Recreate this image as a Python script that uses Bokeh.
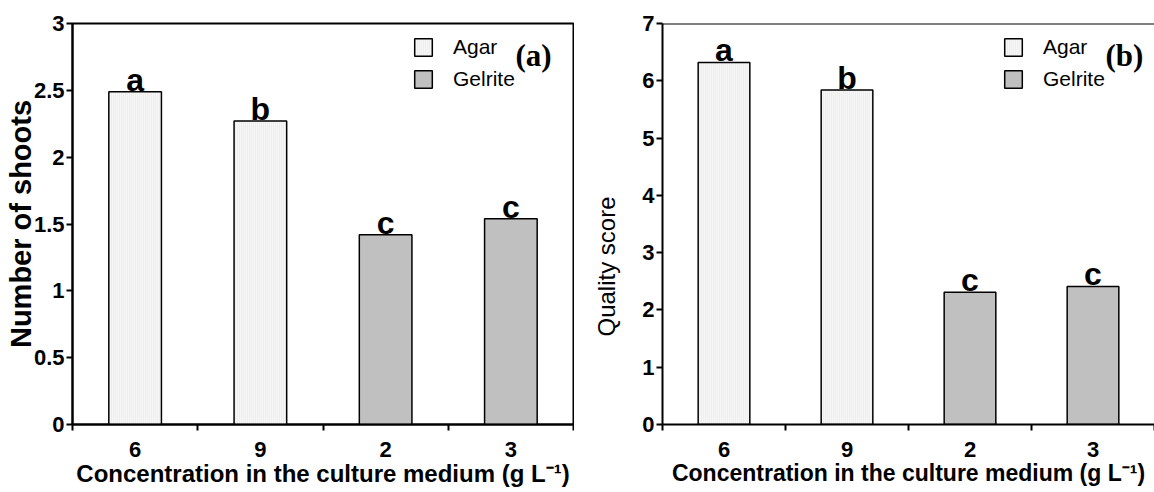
from bokeh.plotting import figure
from bokeh.models import (ColumnDataSource, FixedTicker, Legend, LegendItem, Label, Span,
                          Title, NumeralTickFormatter, CustomJSTickFormatter)
from bokeh.core.properties import value
from bokeh.layouts import row
from bokeh.embed import file_html
from bokeh.resources import INLINE

# Concentration of each gelling agent (g L-1) and the agent used
concentrations = ["6", "9", "2", "3"]
media = ["Agar", "Agar", "Gelrite", "Gelrite"]

# (a) number of shoots per explant
shoots = [2.49, 2.27, 1.42, 1.54]
shoots_letters = ["a", "b", "c", "c"]
shoots_ticks = [0, 0.5, 1, 1.5, 2, 2.5, 3]

# (b) quality score
quality = [6.32, 5.84, 2.31, 2.41]
quality_letters = ["a", "b", "c", "c"]
quality_ticks = [0, 1, 2, 3, 4, 5, 6, 7]

SANS = "Liberation Sans"
SERIF = "Liberation Serif"
AGAR_FILL = "#f6f6f6"
GELRITE_FILL = "#c0c0c0"
FRAME_H = 401
XTITLE = "Concentration in the culture medium (g L\u207b\u00b9)"


def panel(values, letters, ticks, xlabel_size, tag, width, border_left, border_right, boxed):
    n = len(concentrations)
    pos = [i + 0.5 for i in range(n)]
    p = figure(width=width, height=492, x_range=(0, n), y_range=(0, ticks[-1]),
               output_backend="svg", toolbar_location=None,
               min_border_left=border_left, min_border_right=border_right,
               min_border_top=23, min_border_bottom=68)
    p.grid.visible = False
    p.background_fill_color = "white"
    p.border_fill_color = "white"
    if boxed:
        p.outline_line_color = "black"
        p.outline_line_width = 2
    else:
        # only the top edge of the frame is drawn
        p.outline_line_color = None
        p.add_layout(Span(location=ticks[-1], dimension="width",
                          line_color="black", line_width=2))

    agar = ColumnDataSource(dict(
        x=[pos[i] for i in range(n) if media[i] == "Agar"],
        top=[values[i] for i in range(n) if media[i] == "Agar"]))
    gel = ColumnDataSource(dict(
        x=[pos[i] for i in range(n) if media[i] == "Gelrite"],
        top=[values[i] for i in range(n) if media[i] == "Gelrite"]))

    r_agar = p.vbar(x="x", top="top", width=0.42, bottom=0, source=agar,
                    fill_color=AGAR_FILL, line_color="black", line_width=1.5,
                    hatch_pattern="vertical_line", hatch_color="#e6e6e6",
                    hatch_scale=2, hatch_weight=1)
    r_gel = p.vbar(x="x", top="top", width=0.42, bottom=0, source=gel,
                   fill_color=GELRITE_FILL, line_color="black", line_width=1.5)

    # significance letters sitting on each bar
    p.text(x=pos, y=values, text=letters, text_align="center",
           text_baseline="bottom", text_font=value(SANS), text_font_style="bold",
           text_font_size="32px", text_color="black", y_offset=6)

    # x axis: category labels centred, ticks on the category boundaries
    xa = p.xaxis[0]
    xa.ticker = FixedTicker(ticks=pos, minor_ticks=list(range(n + 1)))
    xa.formatter = CustomJSTickFormatter(args=dict(labels=concentrations),
                                         code="return labels[Math.floor(tick)];")
    xa.major_tick_out = 0
    xa.major_tick_in = 0
    xa.minor_tick_out = 6
    xa.minor_tick_in = 0
    xa.minor_tick_line_width = 2
    xa.axis_line_width = 2
    xa.major_label_standoff = 11
    xa.major_label_text_font = SANS
    xa.major_label_text_font_style = "bold"
    xa.major_label_text_font_size = "22px"
    xa.major_label_text_color = "black"
    xa.axis_label = XTITLE
    xa.axis_label_text_font = SANS
    xa.axis_label_text_font_style = "bold"
    xa.axis_label_text_font_size = xlabel_size
    xa.axis_label_text_color = "black"
    xa.axis_label_standoff = 0

    ya = p.yaxis[0]
    ya.ticker = FixedTicker(ticks=ticks, minor_ticks=[])
    ya.formatter = NumeralTickFormatter(format="0.[0]")
    ya.major_tick_out = 6
    ya.major_tick_in = 0
    ya.major_tick_line_width = 2
    ya.minor_tick_out = 0
    ya.minor_tick_in = 0
    ya.axis_line_width = 2
    ya.major_label_standoff = 2
    ya.major_label_text_font = SANS
    ya.major_label_text_font_style = "bold"
    ya.major_label_text_font_size = "22px"
    ya.major_label_text_color = "black"

    legend = Legend(items=[LegendItem(label="Agar", renderers=[r_agar]),
                           LegendItem(label="Gelrite", renderers=[r_gel])],
                    location=(340, FRAME_H - 16 - 52),
                    glyph_width=22, glyph_height=22, label_height=22,
                    spacing=8, padding=0, margin=0, label_standoff=19,
                    label_text_font=SANS, label_text_font_size="21px",
                    label_text_color="black",
                    border_line_alpha=0, background_fill_alpha=0)
    p.add_layout(legend)

    p.add_layout(Label(x=443, y=FRAME_H - 32, x_units="screen", y_units="screen",
                       text=tag, text_font=SERIF, text_font_style="bold",
                       text_font_size="31px", text_baseline="middle",
                       text_color="black"))
    return p


left = panel(shoots, shoots_letters, shoots_ticks, "24px", "(a)", 574, 72, 1, True)
ly = left.yaxis[0]
ly.axis_label = "Number of shoots"
ly.axis_label_text_font = SANS
ly.axis_label_text_font_style = "bold"
ly.axis_label_text_font_size = "29px"
ly.axis_label_text_color = "black"
ly.axis_label_standoff = -6

right = panel(quality, quality_letters, quality_ticks, "23px", "(b)", 580, 88, 0, False)
# y title starts 88 px above the x axis, set toward the outer edge of the border
right.add_layout(Title(text="Quality score", align="left", offset=88, standoff=36,
                       vertical_align="top",
                       text_font=SANS, text_font_style="normal", text_font_size="24px",
                       text_color="black"), "left")

layout = row(left, right)
open("out.html", "w").write(file_html(layout, INLINE))
